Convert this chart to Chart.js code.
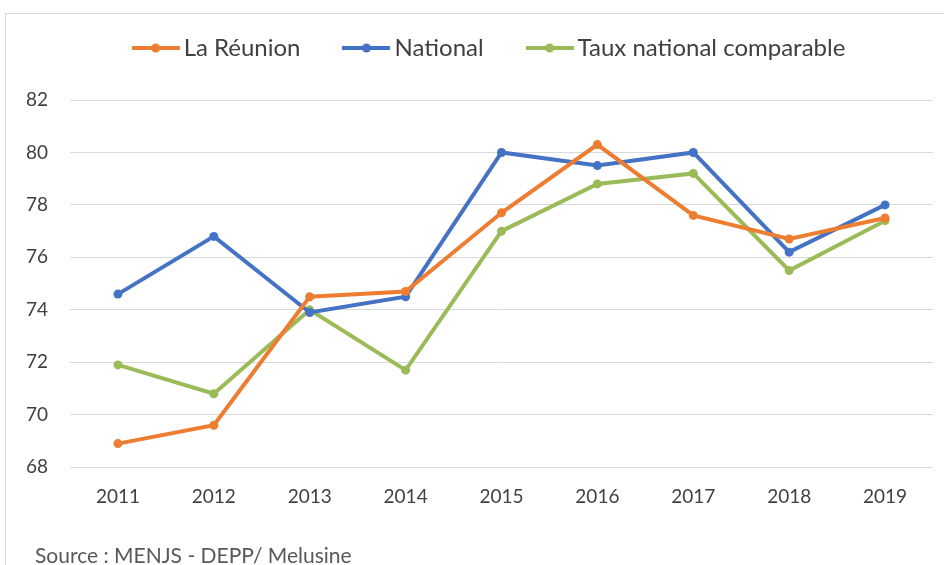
<!DOCTYPE html>
<html><head><meta charset="utf-8">
<script src="https://cdn.jsdelivr.net/npm/chart.js@4"></script>
<style>
html,body{margin:0;padding:0;background:#fff;}
#wrap{position:relative;width:944px;height:565px;overflow:hidden;}
#frame{position:absolute;left:5px;top:13px;width:960px;height:600px;border:1px solid #d9d9d9;box-sizing:border-box;}
canvas{position:absolute;left:0;top:0;}
</style></head>
<body><div id="wrap"><div id="frame"></div><canvas id="c" width="944" height="565"></canvas></div>
<script>
const years = ["2011","2012","2013","2014","2015","2016","2017","2018","2019"];
const reunion = [68.9, 69.6, 74.5, 74.7, 77.7, 80.3, 77.6, 76.7, 77.5];
const national = [74.6, 76.8, 73.9, 74.5, 80.0, 79.5, 80.0, 76.2, 78.0];
const comparable = [71.9, 70.8, 74.0, 71.7, 77.0, 78.8, 79.2, 75.5, 77.4];
const seriesNames = ["La Réunion", "National", "Taux national comparable"];
const colors = ["#ED7D31", "#4472C4", "#9BBB59"];
const sourceText = "Source : MENJS - DEPP/ Melusine";

function legendIcon(color){
  const c = document.createElement('canvas');
  c.width = 48; c.height = 12;
  const g = c.getContext('2d');
  g.strokeStyle = color; g.lineWidth = 4; g.lineCap = 'butt';
  g.beginPath(); g.moveTo(0,6); g.lineTo(48,6); g.stroke();
  g.fillStyle = color; g.beginPath(); g.arc(24,6,4.5,0,Math.PI*2); g.fill();
  return c;
}
const icons = colors.map(legendIcon);

const layoutPlugin = {
  id: 'layoutTweaks',
  beforeUpdate(chart){
    const lg = chart.legend;
    if (lg && !lg._patched){
      const f = lg.fit;
      lg.fit = function(){ f.call(this); this.height += 15; };
      lg._patched = true;
    }
  },
  afterLayout(chart){
    const lg = chart.legend;
    if (lg){ lg.left += 16; lg.right += 16; lg.top -= 15; lg.bottom -= 15; }
  },
  afterDraw(chart){
    const ctx = chart.ctx;
    ctx.save();
    ctx.font = '21px Lato';
    ctx.fillStyle = '#595959';
    ctx.textBaseline = 'alphabetic';
    ctx.textAlign = 'left';
    ctx.fillText(sourceText, 35, 563);
    ctx.restore();
  }
};

const mk = (label, data, color) => ({
  label, data,
  borderColor: color, backgroundColor: color,
  borderWidth: 4, pointRadius: 4.5, pointHoverRadius: 4.5,
  pointBorderWidth: 0, tension: 0
});

new Chart(document.getElementById('c'), {
  type: 'line',
  data: {
    labels: years,
    datasets: [
      mk(seriesNames[0], reunion, colors[0]),
      mk(seriesNames[1], national, colors[1]),
      mk(seriesNames[2], comparable, colors[2])
    ]
  },
  options: {
    responsive: false,
    animation: false,
    events: [],
    layout: { padding: { left: 20, right: 11, top: 1, bottom: 39 } },
    plugins: {
      tooltip: { enabled: false },
      legend: {
        position: 'top',
        labels: {
          usePointStyle: true,
          pointStyleWidth: 32,
          padding: 50,
          color: '#404040',
          font: { family: 'Lato', size: 24 },
          generateLabels(chart){
            return Chart.defaults.plugins.legend.labels.generateLabels(chart).map((l,i)=>Object.assign(l,{pointStyle: icons[i]}));
          }
        }
      }
    },
    scales: {
      x: {
        offset: true,
        grid: { display: false, drawTicks: false },
        border: { display: false },
        ticks: { color: '#404040', font: { family: 'Lato', size: 19 }, padding: 18, maxRotation: 0 }
      },
      y: {
        min: 68, max: 82,
        afterFit(scale){ scale.width = 50; },
        grid: { color: '#d9d9d9', lineWidth: 1, drawTicks: false },
        border: { display: false },
        ticks: { stepSize: 2, color: '#404040', font: { family: 'Lato', size: 19 }, padding: 22 }
      }
    }
  },
  plugins: [layoutPlugin]
});
</script>
</body></html>
